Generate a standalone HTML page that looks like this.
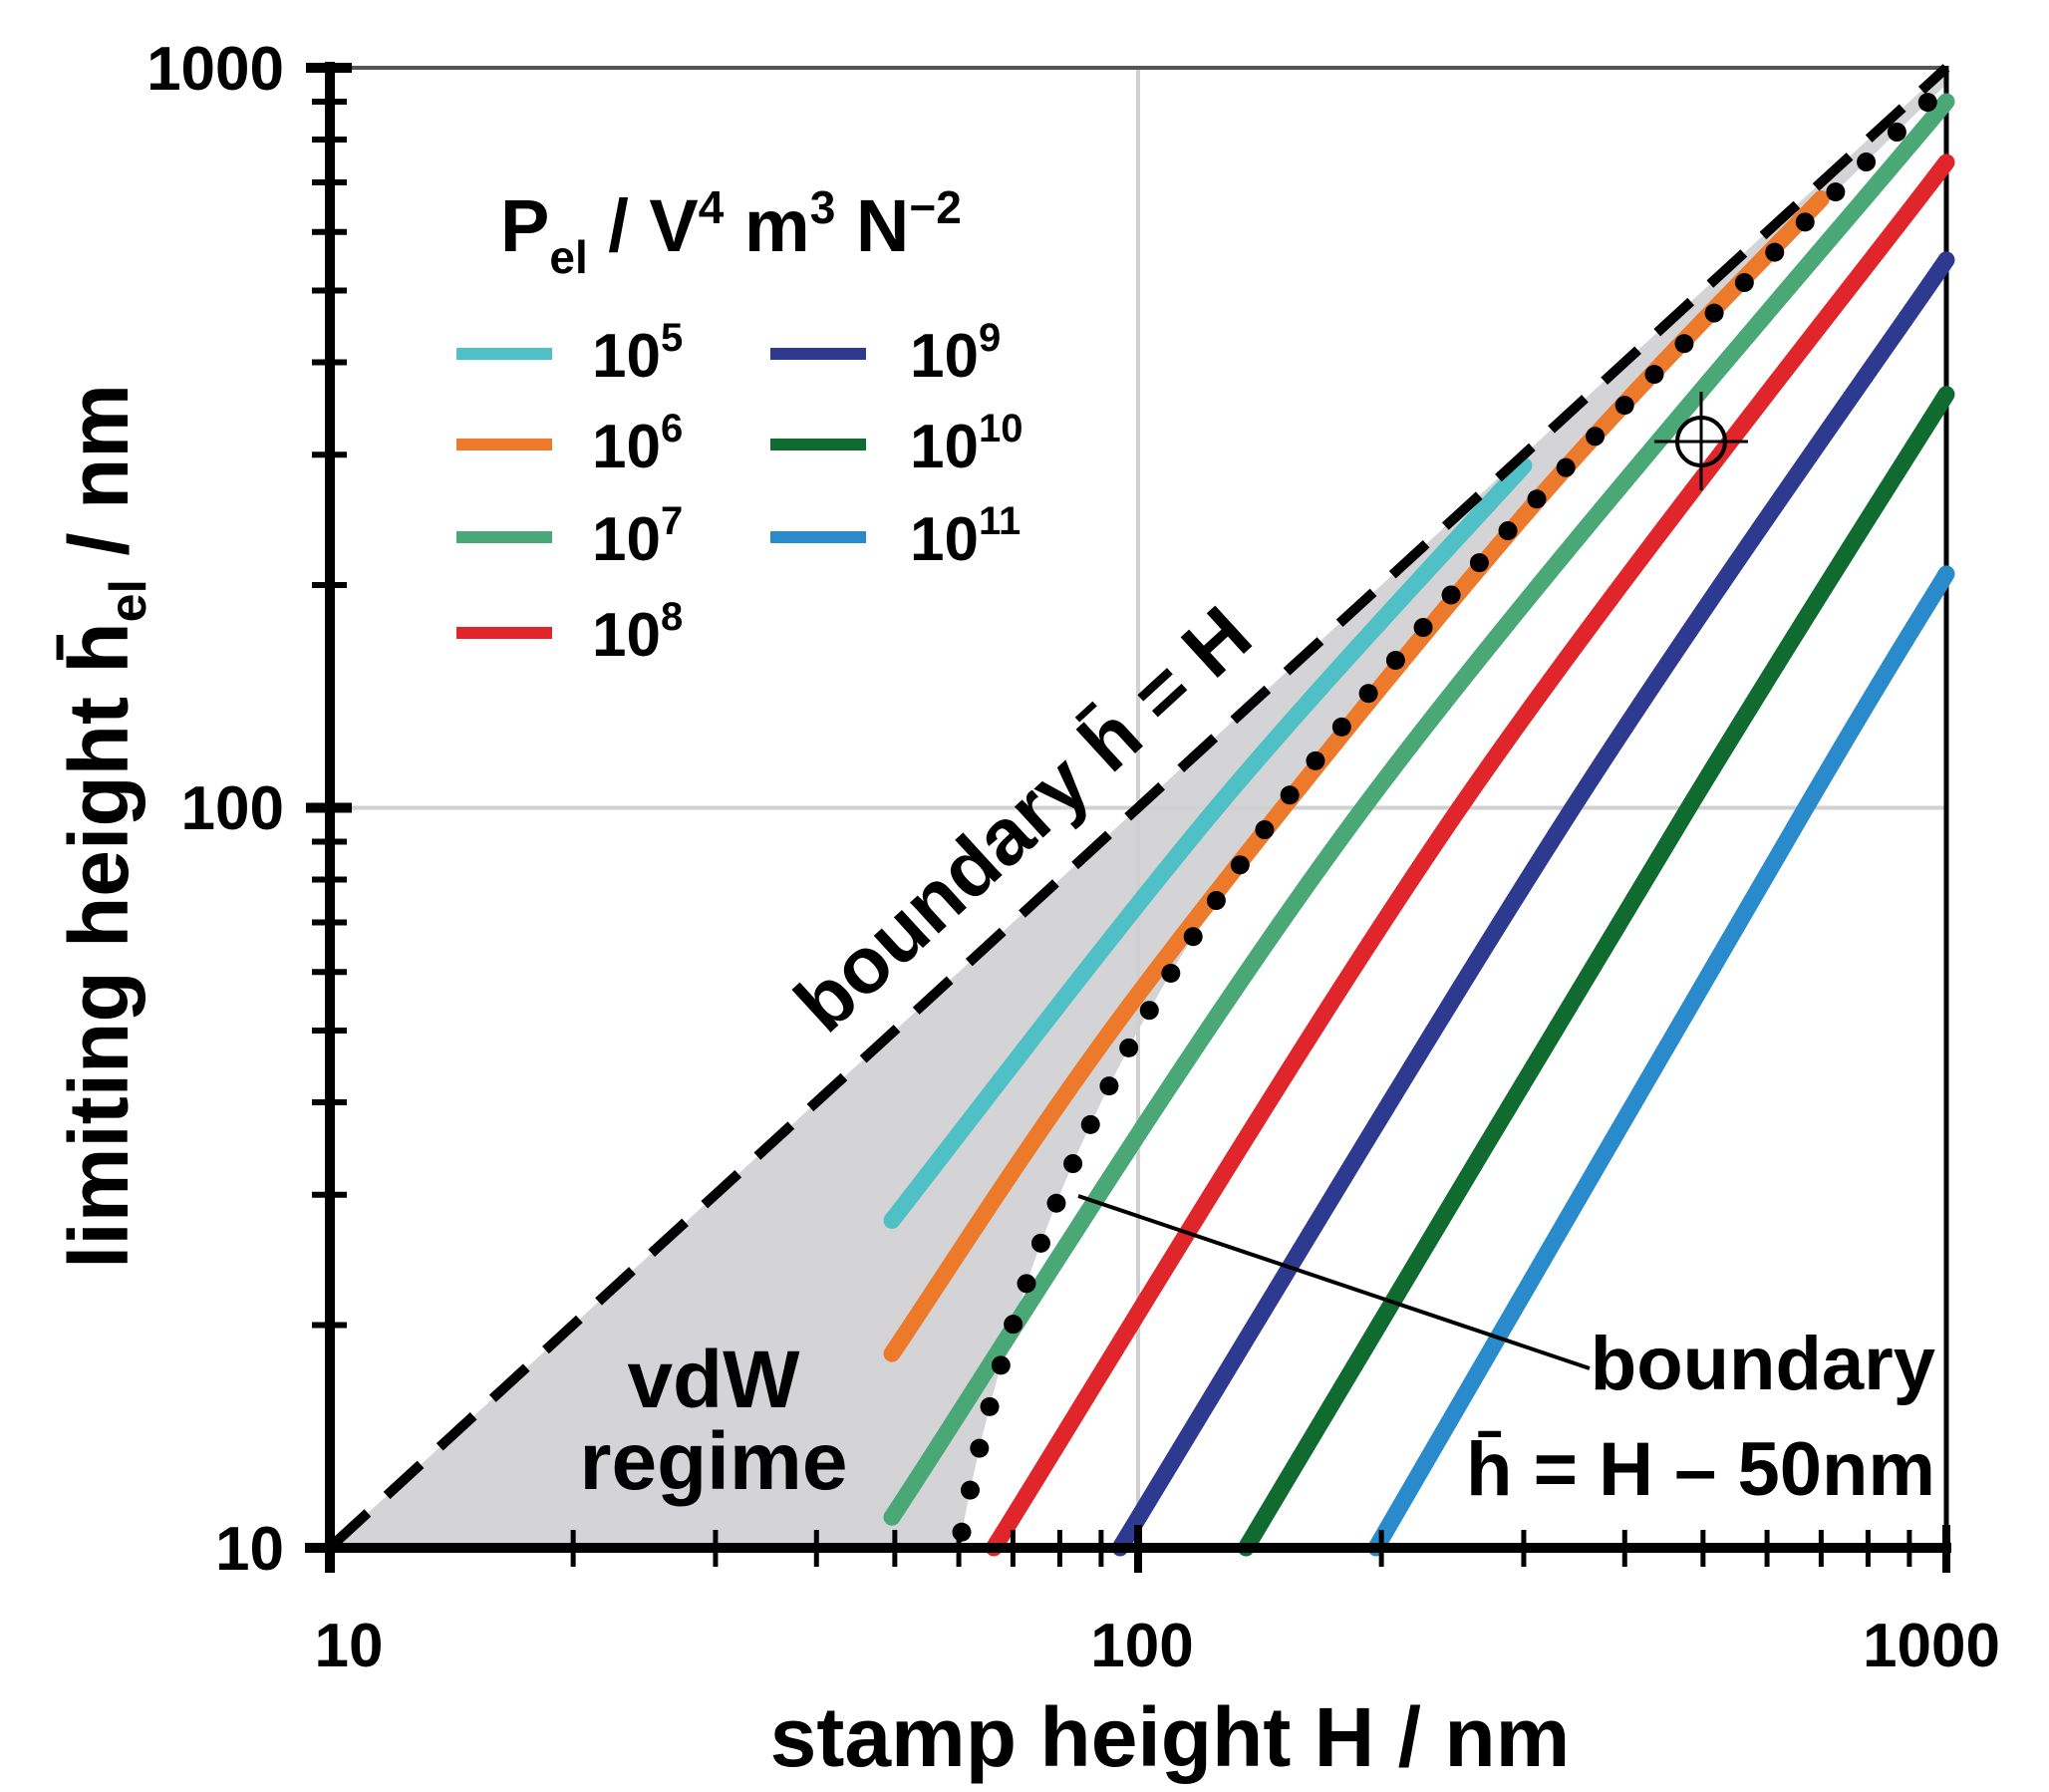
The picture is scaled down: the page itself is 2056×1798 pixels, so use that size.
<!DOCTYPE html>
<html><head><meta charset="utf-8"><style>
html,body{margin:0;padding:0;background:#fff}
svg{display:block}
text{font-family:"Liberation Sans",Arial,sans-serif;font-weight:bold;fill:#000}
</style></head><body>
<svg id="s" width="2056" height="1798" viewBox="0 0 2056 1798" xmlns="http://www.w3.org/2000/svg">
<g id="g"></g>
<text x="285" y="90" font-size="62" text-anchor="end">1000</text>
<text x="285" y="832" font-size="62" text-anchor="end">100</text>
<text x="285" y="1575" font-size="62" text-anchor="end">10</text>
<text x="350" y="1672" font-size="62" text-anchor="middle">10</text>
<text x="1146" y="1672" font-size="62" text-anchor="middle">100</text>
<text x="1938" y="1672" font-size="62" text-anchor="middle">1000</text>
<text x="1174" y="1772" font-size="84" text-anchor="middle">stamp height H / nm</text>
<text transform="translate(128,829) rotate(-90)" font-size="84" text-anchor="middle">limiting height h̄<tspan font-size="52" dy="18">el</tspan><tspan dy="-18"> / nm</tspan></text>
<text x="502" y="252" font-size="74">P<tspan font-size="46" dy="22">el</tspan><tspan dy="-22"> / V</tspan><tspan font-size="46" dy="-28">4</tspan><tspan dy="28"> m</tspan><tspan font-size="46" dy="-28">3</tspan><tspan dy="28"> N</tspan><tspan font-size="46" dy="-28">−2</tspan></text>
<g font-size="62">
<text x="594" y="378">10<tspan font-size="40" dy="-26">5</tspan></text>
<text x="594" y="469">10<tspan font-size="40" dy="-26">6</tspan></text>
<text x="594" y="562">10<tspan font-size="40" dy="-26">7</tspan></text>
<text x="594" y="658">10<tspan font-size="40" dy="-26">8</tspan></text>
<text x="913" y="378">10<tspan font-size="40" dy="-26">9</tspan></text>
<text x="913" y="469">10<tspan font-size="40" dy="-26">10</tspan></text>
<text x="913" y="562">10<tspan font-size="40" dy="-26">11</tspan></text>
</g>
<g stroke-width="12" stroke-linecap="butt">
<line x1="458" y1="355" x2="554" y2="355" stroke="#4fc1c6"/>
<line x1="458" y1="446" x2="554" y2="446" stroke="#ec7a2a"/>
<line x1="458" y1="539" x2="554" y2="539" stroke="#4aa877"/>
<line x1="458" y1="635" x2="554" y2="635" stroke="#e0262b"/>
<line x1="773" y1="355" x2="869" y2="355" stroke="#2e3a8f"/>
<line x1="773" y1="446" x2="869" y2="446" stroke="#0f6b2f"/>
<line x1="773" y1="539" x2="869" y2="539" stroke="#2a8bcc"/>
</g>
<text transform="translate(1045,842) rotate(-42.5)" font-size="80" text-anchor="middle">boundary h̄ = H</text>
<text x="716" y="1412" font-size="82" text-anchor="middle">vdW</text>
<text x="716" y="1494" font-size="82" text-anchor="middle">regime</text>
<text x="1942" y="1394" font-size="76" text-anchor="end">boundary</text>
<text x="1942" y="1500" font-size="76" text-anchor="end">h̄ = H – 50nm</text>
</svg>
<script>
var NS="http://www.w3.org/2000/svg",g=document.getElementById("g");
function X(H){return 331+811*Math.log10(H/10);}
function Y(h){return 1553-742.5*Math.log10(h/10);}
function el(t,a){var e=document.createElementNS(NS,t);for(var k in a)e.setAttribute(k,a[k]);g.appendChild(e);return e;}
var pts=[[X(10),Y(10)],[X(60),Y(10)]];
for(var H=60;H<=1000;H+=2){pts.push([X(H),Y(H-50)]);}
pts.push([X(1000),Y(1000)]);
el("polygon",{points:pts.map(p=>p.join(",")).join(" "),fill:"#d4d3d6"});
el("line",{x1:X(100),y1:Y(10),x2:X(100),y2:Y(1000),stroke:"#d0d0d0","stroke-width":4});
el("line",{x1:X(10),y1:Y(100),x2:X(1000),y2:Y(100),stroke:"#d0d0d0","stroke-width":4});
el("line",{x1:X(10),y1:Y(1000),x2:X(1000),y2:Y(1000),stroke:"#555","stroke-width":4});
el("line",{x1:X(1000),y1:Y(1000)-2,x2:X(1000),y2:Y(10),stroke:"#000","stroke-width":5});
function curve(P,c){
 var q=P.map(p=>[X(p[0]),Y(p[1])]);var d="M"+q[0][0]+","+q[0][1];
 for(var i=0;i<q.length-1;i++){var p0=q[Math.max(0,i-1)],p1=q[i],p2=q[i+1],p3=q[Math.min(q.length-1,i+2)];
 d+=" C"+(p1[0]+(p2[0]-p0[0])/6)+","+(p1[1]+(p2[1]-p0[1])/6)+" "+(p2[0]-(p3[0]-p1[0])/6)+","+(p2[1]-(p3[1]-p1[1])/6)+" "+p2[0]+","+p2[1];}
 el("path",{d:d,fill:"none",stroke:c,"stroke-width":17,"stroke-linecap":"round"});}
curve([[49.6,27.7],[125,100],[300,290]],"#4fc1c6");
curve([[49.6,18.3],[100,56],[300,248],[700,665]],"#ec7a2a");
curve([[49.6,11],[190,100],[1000,900]],"#4aa877");
curve([[66.3,10],[250,100],[1000,745]],"#e0262b");
curve([[95,10],[345,100],[1000,550]],"#2e3a8f");
curve([[136,10],[480,100],[1000,362]],"#0f6b2f");
curve([[197,10],[670,100],[1000,207]],"#2a8bcc");
el("line",{x1:X(10)+4,y1:Y(10)-4,x2:X(1000),y2:Y(1000),stroke:"#000","stroke-width":10,"stroke-dasharray":"46 26"});
var dd="";for(var H=60.5;H<=1000;H+=1){dd+=(dd?" L":"M")+X(H)+","+Y(H-50);}
el("path",{d:dd,fill:"none",stroke:"#000","stroke-width":19,"stroke-linecap":"round","stroke-dasharray":"0 43"});
el("line",{x1:1082,y1:1200,x2:1595,y2:1373,stroke:"#000","stroke-width":4});
el("circle",{cx:1707,cy:443,r:24,fill:"none",stroke:"#000","stroke-width":4});
el("line",{x1:1660,y1:443,x2:1754,y2:443,stroke:"#000","stroke-width":3});
el("line",{x1:1707,y1:393,x2:1707,y2:492,stroke:"#000","stroke-width":3});
el("line",{x1:331,y1:62,x2:331,y2:1578,stroke:"#000","stroke-width":10});
el("line",{x1:306,y1:1553,x2:1958,y2:1553,stroke:"#000","stroke-width":10});
for(var dec=10;dec<=1000;dec*=10){
 for(var m=1;m<10;m++){var v=dec*m;if(v>1000)break;
  var maj=(m==1);
  var y=Y(v); el("line",{x1:maj?307:313,y1:y,x2:maj?353:348,y2:y,stroke:"#000","stroke-width":maj?10:6});
  var x=X(v); el("line",{x1:x,y1:maj?1530:1535,x2:x,y2:maj?1578:1572,stroke:"#000","stroke-width":maj?8:5});
 }}
</script>
</body></html>
